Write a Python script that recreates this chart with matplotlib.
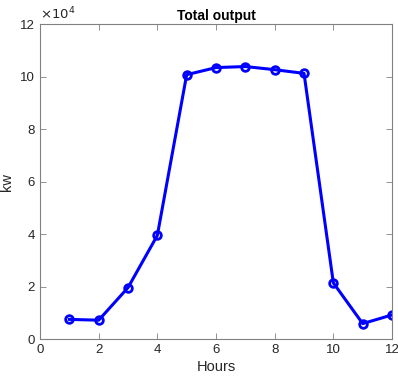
import numpy as np
import matplotlib.pyplot as plt

plt.rcParams['font.family'] = ['Liberation Sans', 'DejaVu Sans']

hours = [1, 2, 3, 4, 5, 6, 7, 8, 9, 10, 11, 12]
output_kw = [7500, 7200, 19600, 39500, 100700, 103400, 103800, 102600, 101200, 21400, 5900, 9200]

fig = plt.figure(figsize=(3.98, 3.81), dpi=100)
ax = fig.add_axes([0.1005, 0.110, 0.8845, 0.827])

ax.plot(hours, output_kw, color='#0000ff', linewidth=2.2, marker='o',
        markersize=5.5, markerfacecolor='none', markeredgewidth=2.0)

ax.set_xlim(0, 12)
ax.set_ylim(0, 120000)
ax.set_xticks(np.arange(0, 13, 2))
ax.set_yticks(np.arange(0, 120001, 20000))
ax.set_yticklabels([str(v) for v in range(0, 13, 2)])

grey = '#262626'
for s in ax.spines.values():
    s.set_color('#808080')
    s.set_linewidth(0.8)
ax.tick_params(direction='in', length=4, width=0.6, colors='#808080',
               labelcolor=grey, labelsize=9.5, top=True, right=True)

ax.text(0.0, 1.005, r'$\times10^{4}$', transform=ax.transAxes, fontsize=9.5,
        color=grey, ha='left', va='bottom')
ax.set_title('Total output', fontsize=10, fontweight='bold', pad=3)
ax.set_xlabel('Hours', fontsize=10.5, color=grey, labelpad=3)
ax.set_ylabel('kw', fontsize=10.5, color=grey)
ax.yaxis.set_label_coords(-0.075, 0.5)

fig.savefig('out.png', dpi=100)
